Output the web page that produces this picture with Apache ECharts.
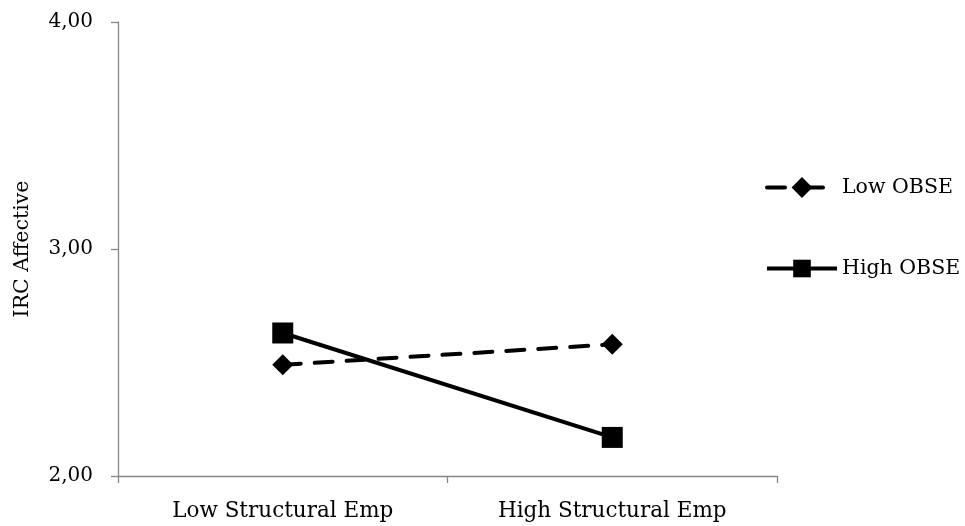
<!DOCTYPE html>
<html>
<head>
<meta charset="utf-8">
<script src="https://cdn.jsdelivr.net/npm/echarts@6/dist/echarts.min.js"></script>
<style>html,body{margin:0;padding:0;background:#fff}#c{width:965px;height:526px}</style>
</head>
<body>
<div id="c"></div>
<script>
const categories = ["Low Structural Emp", "High Structural Emp"];
const lowOBSE = [2.49, 2.58];
const highOBSE = [2.63, 2.17];
const yTicks = [2, 3, 4];
const yAxisTitle = "IRC Affective";
const seriesNames = ["Low OBSE", "High OBSE"];

const FONT = '"DejaVu Serif", serif';
const AXIS_GRAY = '#868686';
const legendText = {fontFamily: FONT, fontSize: 20.5, color: '#000', padding: 0};
const chart = echarts.init(document.getElementById('c'), null, {renderer: 'canvas'});
chart.setOption({
  backgroundColor: '#ffffff',
  animation: false,
  textStyle: {fontFamily: FONT, color: '#000'},
  grid: {left: 118, right: 188, top: 22, bottom: 50, containLabel: false, outerBoundsMode: 'none'},
  legend: [
    {
      orient: 'vertical',
      left: 765,
      top: 177,
      padding: 0,
      itemWidth: 70,
      itemHeight: 26,
      lineStyle: {width: 4, type: [18, 11, 27, 60], cap: 'round'},
      textStyle: legendText,
      data: [seriesNames[0]]
    },
    {
      orient: 'vertical',
      left: 765,
      top: 269 - 11,
      padding: 0,
      itemWidth: 70,
      itemHeight: 22,
      lineStyle: {width: 4},
      textStyle: legendText,
      data: [seriesNames[1]]
    }
  ],
  xAxis: {
    type: 'category',
    data: categories,
    boundaryGap: true,
    axisLine: {lineStyle: {color: AXIS_GRAY, width: 1.3}},
    axisTick: {show: true, length: 7, lineStyle: {color: AXIS_GRAY, width: 1.3}},
    axisLabel: {fontFamily: FONT, fontSize: 21.5, color: '#000', margin: 24}
  },
  yAxis: {
    type: 'value',
    min: yTicks[0],
    max: yTicks[yTicks.length - 1],
    interval: 1,
    name: yAxisTitle,
    nameLocation: 'middle',
    nameGap: 85,
    nameTextStyle: {fontFamily: FONT, fontSize: 20.5, color: '#000'},
    splitLine: {show: false},
    axisLine: {show: true, lineStyle: {color: AXIS_GRAY, width: 1.3}},
    axisTick: {show: true, length: 7, lineStyle: {color: AXIS_GRAY, width: 1.3}},
    axisLabel: {fontFamily: FONT, fontSize: 20, color: '#000', margin: 25,
      formatter: v => v.toFixed(2).replace('.', ',')}
  },
  series: [
    {
      name: seriesNames[0],
      type: 'line',
      data: lowOBSE,
      symbol: 'diamond',
      symbolSize: 21,
      itemStyle: {color: '#000'},
      lineStyle: {color: '#000', width: 4, type: [18, 14], cap: 'round'}
    },
    {
      name: seriesNames[1],
      type: 'line',
      data: highOBSE,
      symbol: 'rect',
      symbolSize: 21,
      itemStyle: {color: '#000'},
      lineStyle: {color: '#000', width: 4, type: 'solid'}
    }
  ]
});
</script>
</body>
</html>
